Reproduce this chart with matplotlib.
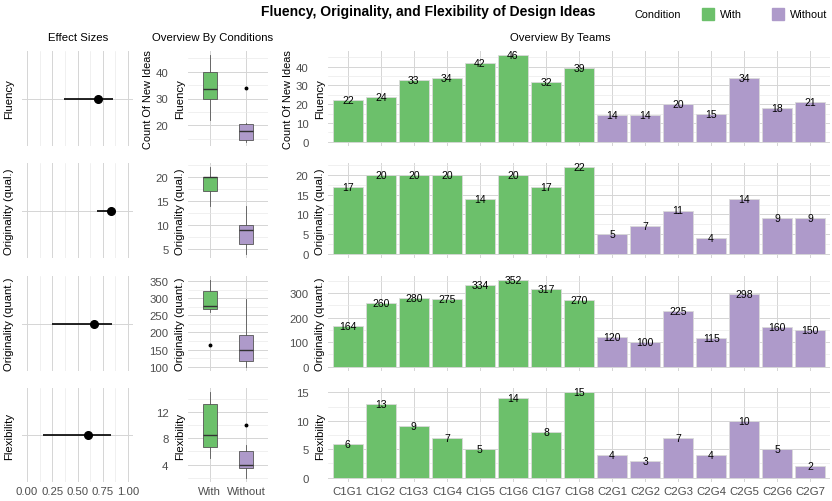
import numpy as np
import matplotlib
matplotlib.use("Agg")
import matplotlib.pyplot as plt
from matplotlib.patches import Rectangle
from matplotlib.ticker import MultipleLocator

plt.rcParams['font.family'] = ['Liberation Sans', 'DejaVu Sans']

# data
teams = ['C1G1', 'C1G2', 'C1G3', 'C1G4', 'C1G5', 'C1G6', 'C1G7', 'C1G8',
         'C2G1', 'C2G2', 'C2G3', 'C2G4', 'C2G5', 'C2G6', 'C2G7']
conditions = ['With'] * 8 + ['Without'] * 7
metrics = ['Fluency', 'Originality (qual.)', 'Originality (quant.)', 'Flexibility']
fluency = [22, 24, 33, 34, 42, 46, 32, 39, 14, 14, 20, 15, 34, 18, 21]
orig_qual = [17, 20, 20, 20, 14, 20, 17, 22, 5, 7, 11, 4, 14, 9, 9]
orig_quant = [164, 260, 280, 275, 334, 352, 317, 270, 120, 100, 225, 115, 298, 160, 150]
flexibility = [6, 13, 9, 7, 5, 14, 8, 15, 4, 3, 7, 4, 10, 5, 2]
effect_est = [0.70, 0.83, 0.66, 0.60]
effect_low = [0.365, 0.69, 0.245, 0.16]
effect_high = [0.85, 0.86, 0.845, 0.83]

values = [fluency, orig_qual, orig_quant, flexibility]
box_step = [10, 5, 50, 4]
bar_step = [10, 5, 100, 5]

colors = {'With': '#6CC06B', 'Without': '#AE9ACA'}
tick_col = '#4D4D4D'
fs = 8.2
W, H = 832, 502
fig = plt.figure(figsize=(W / 100, H / 100), dpi=100)


def ax_at(x0, y0, x1, y1):
    return fig.add_axes([x0 / W, 1 - y1 / H, (x1 - x0) / W, (y1 - y0) / H])


def style(ax):
    for s in ax.spines.values():
        s.set_visible(False)
    ax.tick_params(which='both', length=0, labelsize=fs, labelcolor=tick_col)
    ax.grid(which='major', color='#D5D5D5', lw=0.7)
    ax.grid(which='minor', color='#E8E8E8', lw=0.45)
    ax.set_axisbelow(True)


rows = [(52, 147), (164, 259), (277, 372), (389, 483)]

for i, (y0, y1) in enumerate(rows):
    last = i == len(rows) - 1
    vals = np.array(values[i])
    cond = np.array(conditions)

    # effect sizes
    ax = ax_at(22, y0, 133, y1)
    style(ax)
    ax.set_xlim(-0.05, 1.05)
    ax.set_ylim(0, 1)
    ax.xaxis.set_major_locator(MultipleLocator(0.25))
    ax.xaxis.set_minor_locator(MultipleLocator(0.125))
    ax.set_yticks([0.5])
    ax.set_yticklabels([])
    ax.hlines(0.5, effect_low[i], effect_high[i], color='black', lw=1.2)
    ax.plot(effect_est[i], 0.5, 'o', color='black', ms=5.5)
    ax.set_ylabel(metrics[i], fontsize=fs, labelpad=2)
    if last:
        ax.set_xticklabels(['%.2f' % t for t in ax.get_xticks()])
        ax.tick_params(axis='x', pad=3)
    else:
        ax.set_xticklabels([])

    # box plots
    ax = ax_at(188, y0, 268, y1)
    style(ax)
    groups = [vals[cond == 'With'], vals[cond == 'Without']]
    bp = ax.boxplot(groups, positions=[0, 1], widths=0.4, patch_artist=True,
                    showcaps=False,
                    medianprops=dict(color='#333333', lw=1.0),
                    whiskerprops=dict(color='#555555', lw=0.6),
                    boxprops=dict(edgecolor='#555555', lw=0.6),
                    flierprops=dict(marker='o', markerfacecolor='black',
                                    markeredgecolor='black', markersize=1.8))
    for patch, c in zip(bp['boxes'], ['With', 'Without']):
        patch.set_facecolor(colors[c])
    lo, hi = vals.min(), vals.max()
    pad = (hi - lo) * 0.05
    ax.set_ylim(lo - pad, hi + pad)
    ax.set_xlim(-0.6, 1.6)
    ax.yaxis.set_major_locator(MultipleLocator(box_step[i]))
    ax.yaxis.set_minor_locator(MultipleLocator(box_step[i] / 2))
    ax.set_xticks([0, 1])
    ax.tick_params(axis='y', pad=14)
    ax.annotate(metrics[i], xy=(0, 0.5), xycoords='axes fraction',
                xytext=(-2, 0), textcoords='offset points', rotation=90,
                ha='right', va='center', fontsize=fs)
    if last:
        ax.set_xticklabels(['With', 'Without'])
        ax.tick_params(axis='x', pad=3)
    else:
        ax.set_xticklabels([])
    if i == 0:
        ax.set_ylabel('Count Of New Ideas', fontsize=7.9, labelpad=2)

    # bars by team
    ax = ax_at(328, y0, 830, y1)
    style(ax)
    x = np.arange(len(teams))
    ax.bar(x, vals, width=0.9, color=[colors[c] for c in conditions],
           edgecolor='#DADADA', lw=0.6)
    for xi, v in zip(x, vals):
        ax.text(xi, v, str(v), ha='center', va='center', fontsize=7.5)
    ax.set_xlim(-0.6, len(teams) - 0.4)
    ax.set_ylim(-0.05 * vals.max(), 1.05 * vals.max())
    ax.yaxis.set_major_locator(MultipleLocator(bar_step[i]))
    ax.yaxis.set_minor_locator(MultipleLocator(bar_step[i] / 2))
    ax.set_xticks(x)
    ax.tick_params(axis='y', pad=14)
    ax.annotate(metrics[i], xy=(0, 0.5), xycoords='axes fraction',
                xytext=(-2, 0), textcoords='offset points', rotation=90,
                ha='right', va='center', fontsize=fs)
    if last:
        ax.set_xticklabels(teams)
        ax.tick_params(axis='x', pad=3)
    else:
        ax.set_xticklabels([])
    if i == 0:
        ax.set_ylabel('Count Of New Ideas', fontsize=7.9, labelpad=2)

# headers
fig.text(428 / W, 1 - 12 / H, 'Fluency, Originality, and Flexibility of Design Ideas',
         ha='center', va='center', fontsize=10, fontweight='bold')
fig.text(78 / W, 1 - 38 / H, 'Effect Sizes', ha='center', va='center', fontsize=fs)
fig.text(213 / W, 1 - 38 / H, 'Overview By Conditions', ha='center', va='center', fontsize=fs)
fig.text(560 / W, 1 - 38 / H, 'Overview By Teams', ha='center', va='center', fontsize=fs)

# legend
fig.text(681 / W, 1 - 15 / H, 'Condition', ha='right', va='center', fontsize=7.8)
for cx, lab in [(702, 'With'), (772, 'Without')]:
    fig.add_artist(Rectangle((cx / W, 1 - 21 / H), 12 / W, 12 / H,
                             transform=fig.transFigure, color=colors[lab]))
    fig.text((cx + 18) / W, 1 - 15 / H, lab, ha='left', va='center', fontsize=7.8)

fig.savefig('out.png', dpi=100)
